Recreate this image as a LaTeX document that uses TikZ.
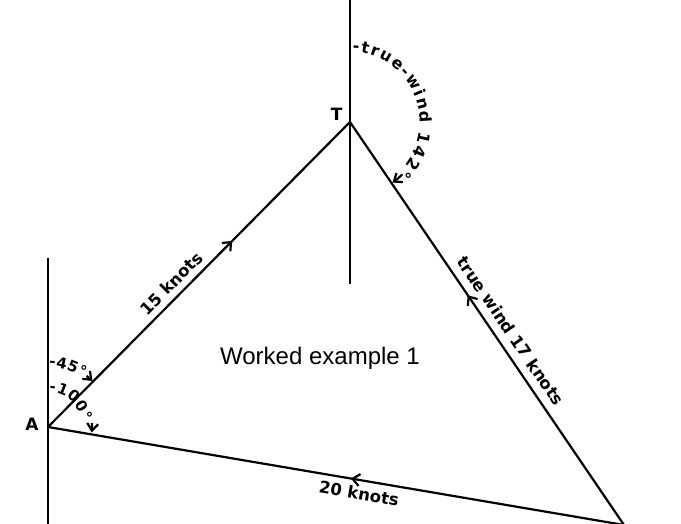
\documentclass[tikz,border=0pt]{standalone}
\usepackage{fontspec}
\usetikzlibrary{arrows.meta,positioning,decorations.markings,decorations.text}
\newfontfamily\labelfont{DejaVu Sans}
\newfontfamily\titlefont{Liberation Sans}
\newcommand{\knotlabel}{\labelfont\bfseries\fontsize{16.5}{18}\selectfont}
\newcommand{\arclabel}{\labelfont\bfseries\fontsize{16}{18}\selectfont}
\newcommand{\smallarclabel}{\labelfont\bfseries\fontsize{15}{17}\selectfont}
\tikzset{vector/.style={line width=2.2pt}}
\tikzset{bearing/.style={line width=2.6pt}}
\tikzset{barb/.style={-{Straight Barb[length=7pt,width=11pt]}}}
\tikzset{forwardarrow/.style={postaction={decorate},decoration={markings,mark=at position #1 with {\arrow{Straight Barb[length=7pt,width=12pt]}}}}}
\tikzset{backwardarrow/.style={postaction={decorate},decoration={markings,mark=at position #1 with {\arrowreversed{Straight Barb[length=7pt,width=12pt]}}}}}

\begin{document}
\begin{tikzpicture}[x=1pt,y=1pt]
	\useasboundingbox (0,0) rectangle (681,524);
	% corners of the triangle
	\coordinate (A) at (48,97);
	\coordinate (T) at (350,402);
	\coordinate (C) at (624,-1);
	\coordinate (Atop) at (48,266);
	\coordinate (Abottom) at (48,-2);
	\coordinate (Ttop) at (350,526);
	\coordinate (Tbottom) at (350,240);

	\draw[bearing] (Atop) -- (Abottom);
	\draw[bearing] (Ttop) -- (Tbottom);

	\draw[vector,forwardarrow=0.61] (A) -- node[pos=0.44,sloped,above=5pt,inner sep=1pt,font=\knotlabel] (boat) {15 knots} (T);
	\draw[vector,backwardarrow=0.43] (T) -- node[pos=0.54,sloped,above=7pt,inner sep=1pt,font=\knotlabel] (wind) {true wind 17 knots} (C);
	\draw[vector,backwardarrow=0.526] (A) -- node[pos=0.544,sloped,below=5pt,inner sep=1pt,font=\knotlabel] (tide) {20 knots} (C);

	\node[font=\labelfont\bfseries\fontsize{17}{19}\selectfont,left=4pt of T,yshift=8pt] (Tname) {T};
	\node[font=\labelfont\bfseries\fontsize{17}{19}\selectfont,left=6pt of A,yshift=3pt] (Aname) {A};
	\node[font=\titlefont\fontsize{24}{28}\selectfont] (title) at (320,166) {Worked example 1};

	% bearings
	\path[decorate,decoration={text along path,text={|\arclabel|-true-wind 142°},text align={fit to path}}]
		([shift={(88:70)}]T) arc[start angle=88,end angle=-46,radius=70];
	\draw[vector,barb] ([shift={(-45:74)}]T) arc[start angle=-45,end angle=-55,radius=74];
	\path[decorate,decoration={text along path,text={|\smallarclabel|-45°},text align={fit to path}}]
		([shift={(89:60)}]A) arc[start angle=89,end angle=55,radius=60];
	\draw[vector,barb] ([shift={(53:64)}]A) arc[start angle=53,end angle=46,radius=64];
	\path[decorate,decoration={text along path,text={|\smallarclabel|-100°},text align={fit to path}}]
		([shift={(88:35)}]A) arc[start angle=88,end angle=10,radius=35];
	\draw[vector,barb] ([shift={(5:44)}]A) arc[start angle=5,end angle=-7,radius=44];
\end{tikzpicture}
\end{document}
